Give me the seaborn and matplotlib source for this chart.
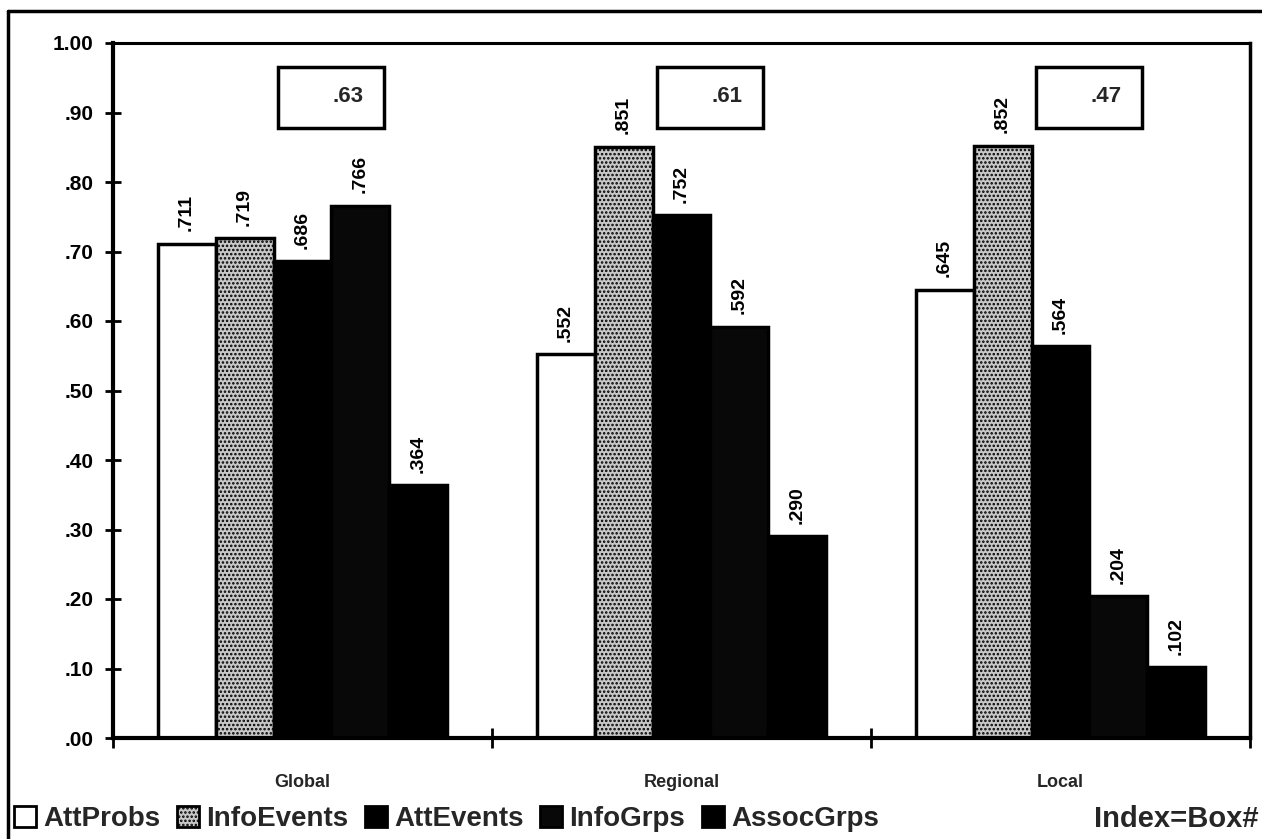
import matplotlib
matplotlib.use("Agg")
import matplotlib.pyplot as plt
from matplotlib.patches import Patch, Rectangle
from matplotlib.lines import Line2D
import seaborn as sns
import pandas as pd

# ---- data -------------------------------------------------------------
levels = ["Global", "Regional", "Local"]
measures = ["AttProbs", "InfoEvents", "AttEvents", "InfoGrps", "AssocGrps"]
att_probs = [0.711, 0.552, 0.645]
info_events = [0.719, 0.851, 0.852]
att_events = [0.686, 0.752, 0.564]
info_grps = [0.766, 0.592, 0.204]
assoc_grps = [0.364, 0.290, 0.102]
index_values = [0.63, 0.61, 0.47]
y_ticks = [0.0, 0.1, 0.2, 0.3, 0.4, 0.5, 0.6, 0.7, 0.8, 0.9, 1.0]
index_label = "Index=Box#"

series = [att_probs, info_events, att_events, info_grps, assoc_grps]
df = pd.DataFrame(
    [(lvl, m, vals[i]) for m, vals in zip(measures, series) for i, lvl in enumerate(levels)],
    columns=["level", "measure", "value"],
)

# ---- styling ------------------------------------------------------------
sns.set_theme(style="white")
plt.rcParams["font.family"] = ["Liberation Sans", "DejaVu Sans"]
plt.rcParams["font.weight"] = "bold"
plt.rcParams["hatch.linewidth"] = 1.2

fills = {
    "AttProbs": dict(facecolor="white", hatch=None),
    "InfoEvents": dict(facecolor="#c8c8c8", hatch="...."),
    "AttEvents": dict(facecolor="black", hatch=None),
    "InfoGrps": dict(facecolor="#080808", hatch=None),
    "AssocGrps": dict(facecolor="black", hatch=None),
}

def fmt(v):
    return f"{v:.3f}".lstrip("0")

def fmt2(v):
    return f"{v:.2f}".lstrip("0") if v < 1 else f"{v:.2f}"

fig = plt.figure(figsize=(12.62, 8.39), dpi=100)
ax = fig.add_axes([113 / 1262, (839 - 738) / 839, (1250 - 113) / 1262, (738 - 43) / 839])

sns.barplot(
    data=df, x="level", y="value", hue="measure", order=levels, hue_order=measures,
    width=0.765, gap=0, dodge=True, errorbar=None, legend=False, ax=ax,
    saturation=1,
)

for m, cont in zip(measures, ax.containers):
    for bar in cont:
        bar.set_facecolor(fills[m]["facecolor"])
        bar.set_edgecolor("black")
        bar.set_linewidth(2.5)
        if fills[m]["hatch"]:
            bar.set_hatch(fills[m]["hatch"])
    ax.bar_label(cont, labels=[fmt(b.get_height()) for b in cont], rotation=90,
                 padding=9, fontsize=14, fontweight="bold", color="black")

ax.set_xlim(-0.5, len(levels) - 0.5)
ax.set_ylim(0, 1.0)
ax.set_xlabel("")
ax.set_ylabel("")

# y axis
ax.set_yticks(y_ticks)
ax.set_yticklabels([fmt2(t) for t in y_ticks], fontsize=15, fontweight="bold")
ax.tick_params(axis="y", which="major", direction="inout", length=12, width=2,
               left=True, pad=8, colors="black")

# x axis: boundary ticks, category labels at centers
ax.set_xticks([i - 0.5 for i in range(len(levels) + 1)])
ax.set_xticklabels([])
ax.tick_params(axis="x", which="major", direction="inout", length=14, width=2,
               bottom=True, colors="black")
ax.set_xticks(range(len(levels)), minor=True)
ax.set_xticklabels(levels, minor=True, fontsize=13, fontweight="bold")
ax.tick_params(axis="x", which="minor", length=0, pad=26)

for side in ["left", "bottom"]:
    ax.spines[side].set_linewidth(3)
    ax.spines[side].set_color("black")
ax.spines["right"].set_linewidth(2.5)
ax.spines["right"].set_color("black")
ax.spines["top"].set_linewidth(2.2)
ax.spines["top"].set_linestyle((0, (1, 1)))
ax.spines["top"].set_color("black")
ax.grid(False)

# index boxes above each group
for i, v in enumerate(index_values):
    ax.add_patch(Rectangle((i - 0.065, 0.878), 0.28, 0.087, facecolor="white",
                           edgecolor="black", linewidth=2.5, zorder=3))
    ax.text(i + 0.16, 0.923, fmt2(v), ha="right", va="center", fontsize=16,
            fontweight="bold", zorder=4)

# legend along the bottom
handles = [Patch(facecolor=fills[m]["facecolor"], edgecolor="black", linewidth=2,
                 hatch=fills[m]["hatch"]) for m in measures]
fig.legend(handles, measures, loc="center left", bbox_to_anchor=(0.011, 0.024),
           ncol=5, frameon=False, handlelength=0.8, handleheight=0.8,
           handletextpad=0.25, columnspacing=0.6, borderaxespad=0, borderpad=0,
           prop={"weight": "bold", "size": 20})
fig.text(0.997, 0.024, index_label, ha="right", va="center", fontsize=21, fontweight="bold")

# outer frame (left and top edges)
fig.add_artist(Line2D([8 / 1262, 8 / 1262], [0, 1 - 11 / 839], transform=fig.transFigure,
                      color="black", linewidth=2.5))
fig.add_artist(Line2D([8 / 1262, 1], [1 - 11 / 839, 1 - 11 / 839], transform=fig.transFigure,
                      color="black", linewidth=2.5))

fig.savefig("out.png", dpi=100, facecolor="white")
